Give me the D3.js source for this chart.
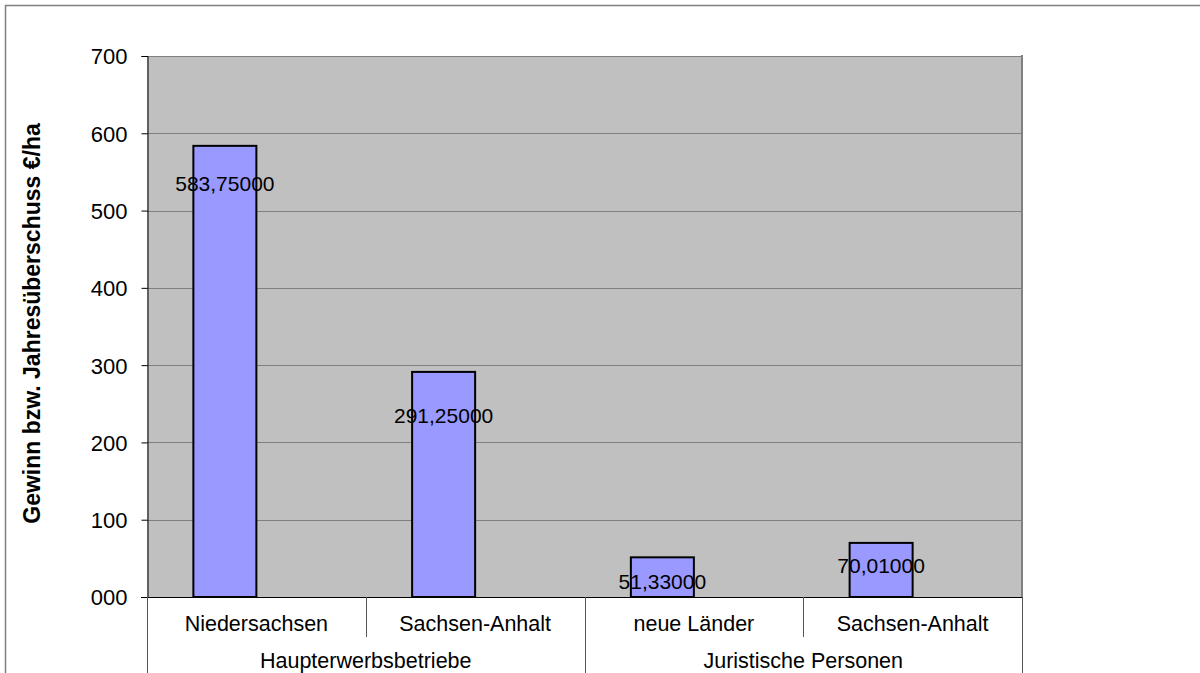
<!DOCTYPE html>
<html>
<head>
<meta charset="utf-8">
<script src="https://cdn.jsdelivr.net/npm/d3@7"></script>
<style>
  html, body { margin: 0; padding: 0; background: #ffffff; }
  svg { display: block; }
  text { font-family: "Liberation Sans", Arial, Helvetica, sans-serif; fill: #000; }
</style>
</head>
<body>
<svg id="chart" width="1200" height="673"></svg>
<script>
// Gewinn bzw. Jahresüberschuss je Hektar
const categories = ["Niedersachsen", "Sachsen-Anhalt", "neue Länder", "Sachsen-Anhalt"];
const groups = ["Haupterwerbsbetriebe", "Juristische Personen"];
const groupSizes = [2, 2];
const values = [583.75, 291.25, 51.33, 70.01];
const valueLabels = ["583,75000", "291,25000", "51,33000", "70,01000"];
const yTickValues = [0, 100, 200, 300, 400, 500, 600, 700];
const yTickLabels = ["000", "100", "200", "300", "400", "500", "600", "700"];
const yTitle = "Gewinn bzw. Jahresüberschuss €/ha";

// layout
const plot = { left: 147, right: 1022, top: 56, bottom: 597 };
// manual vertical nudges of the data labels (px below the bar top)
const labelDrop = [45, 51, 32, 30];

const svg = d3.select("#chart");

// outer chart frame
svg.append("rect")
  .attr("x", 5.5).attr("y", 5.5)
  .attr("width", 1300).attr("height", 800)
  .attr("fill", "#fff").attr("stroke", "#7f7f7f").attr("stroke-width", 1.5);

const y = d3.scaleLinear().domain([0, 700]).range([plot.bottom, plot.top]);
const x = d3.scaleBand().domain(d3.range(categories.length))
  .range([plot.left, plot.right]).paddingInner(0).paddingOuter(0);
// two series slots per category, only the first one carries values
const xs = d3.scaleBand().domain(["wert", "leer"])
  .range([0, x.bandwidth()]).paddingInner(0).paddingOuter(0.736);

// plot background
svg.append("rect")
  .attr("x", plot.left).attr("y", plot.top)
  .attr("width", plot.right - plot.left).attr("height", plot.bottom - plot.top)
  .attr("fill", "#c0c0c0");

// horizontal gridlines
svg.append("g")
  .selectAll("line")
  .data(yTickValues.filter(v => v > 0))
  .join("line")
  .attr("x1", plot.left).attr("x2", plot.right)
  .attr("y1", d => Math.round(y(d)) + 0.5).attr("y2", d => Math.round(y(d)) + 0.5)
  .attr("stroke", "#808080").attr("stroke-width", 1);

// right edge of plot area
svg.append("line")
  .attr("x1", plot.right).attr("x2", plot.right)
  .attr("y1", plot.top - 1).attr("y2", plot.bottom)
  .attr("stroke", "#808080").attr("stroke-width", 2);

// bars
svg.append("g")
  .selectAll("rect")
  .data(values)
  .join("rect")
  .attr("x", (d, i) => x(i) + xs("wert"))
  .attr("y", d => y(d))
  .attr("width", xs.bandwidth())
  .attr("height", d => y(0) - y(d))
  .attr("fill", "#9999ff")
  .attr("stroke", "#000").attr("stroke-width", 2);

// data labels
svg.append("g")
  .selectAll("text")
  .data(values)
  .join("text")
  .attr("x", (d, i) => x(i) + xs("wert") + xs.bandwidth() / 2)
  .attr("y", (d, i) => y(d) + labelDrop[i])
  .attr("text-anchor", "middle")
  .attr("font-size", 21)
  .text((d, i) => valueLabels[i]);

// y axis
const yAxis = d3.axisLeft(y)
  .tickValues(yTickValues)
  .tickFormat((d, i) => yTickLabels[i])
  .tickSize(6).tickPadding(14);
const ya = svg.append("g")
  .attr("transform", `translate(${plot.left + 0.5},0)`)
  .call(yAxis);
ya.select(".domain").attr("stroke", "#000");
ya.selectAll(".tick line").attr("stroke", "#000");
ya.selectAll(".tick text").attr("font-size", 22).attr("font-family", null).attr("dy", "0.36em");

// x axis baseline
svg.append("line")
  .attr("x1", plot.left - 6).attr("x2", plot.right)
  .attr("y1", plot.bottom + 0.5).attr("y2", plot.bottom + 0.5)
  .attr("stroke", "#000").attr("stroke-width", 1);

// category dividers and labels
const catBottom = plot.bottom + 40;
const gx = svg.append("g");
const groupStarts = [0];
groupSizes.forEach((s, i) => groupStarts.push(groupStarts[i] + s));
categories.forEach((c, i) => {
  if (i > 0 && !groupStarts.includes(i)) {
    gx.append("line")
      .attr("x1", Math.round(x(i)) + 0.5).attr("x2", Math.round(x(i)) + 0.5)
      .attr("y1", plot.bottom).attr("y2", catBottom)
      .attr("stroke", "#555").attr("stroke-width", 1);
  }
  gx.append("text")
    .attr("x", x(i) + x.bandwidth() / 2)
    .attr("y", plot.bottom + 34)
    .attr("text-anchor", "middle")
    .attr("font-size", 21.5)
    .text(c);
});

// group dividers and labels
groupStarts.forEach((s, gi) => {
  const gxPos = s < categories.length ? x(s) : plot.right;
  gx.append("line")
    .attr("x1", Math.round(gxPos) + 0.5).attr("x2", Math.round(gxPos) + 0.5)
    .attr("y1", plot.bottom).attr("y2", 700)
    .attr("stroke", "#555").attr("stroke-width", 1);
  if (gi < groups.length) {
    const x0 = x(s);
    const x1 = x(s + groupSizes[gi] - 1) + x.bandwidth();
    gx.append("text")
      .attr("x", (x0 + x1) / 2)
      .attr("y", plot.bottom + 71)
      .attr("text-anchor", "middle")
      .attr("font-size", 21.5)
      .text(groups[gi]);
  }
});

// y axis title
svg.append("text")
  .attr("transform", `translate(40,${(plot.top + plot.bottom) / 2 - 3}) rotate(-90)`)
  .attr("text-anchor", "middle")
  .attr("font-size", 23)
  .attr("font-weight", "bold")
  .text(yTitle);
</script>
</body>
</html>
